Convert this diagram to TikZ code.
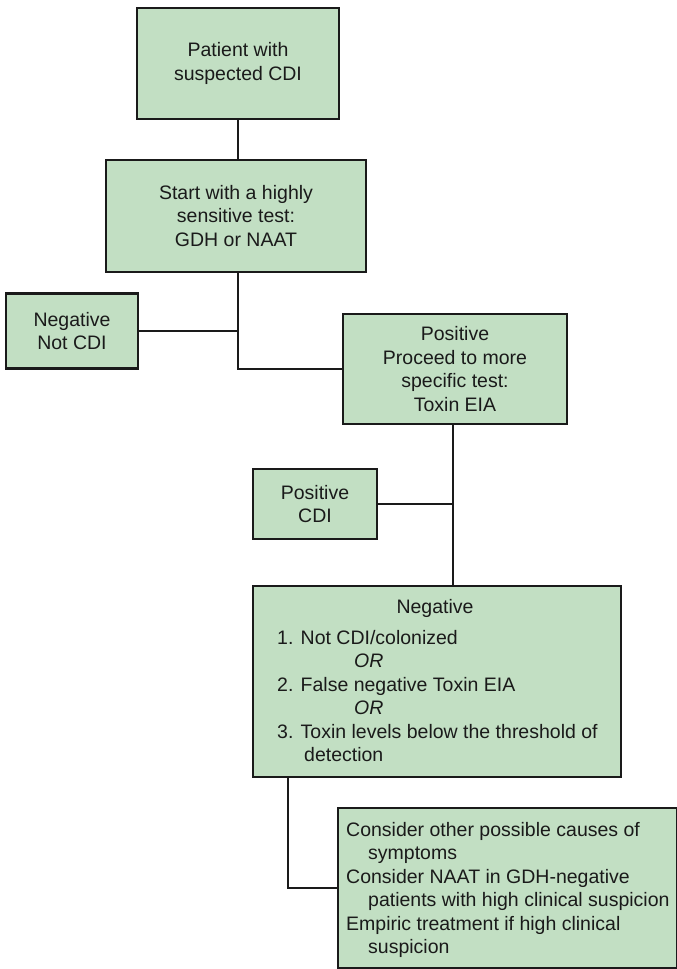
\documentclass[tikz,border=0pt]{standalone}
\usepackage{fontspec}
\setmainfont{Liberation Sans}
\definecolor{boxfill}{HTML}{C2DFC3}
\definecolor{ink}{HTML}{1A1A1A}
\begin{document}
\begin{tikzpicture}[x=1pt,y=-1pt,
  box/.style={draw=ink,fill=boxfill,line width=2.6pt,rectangle,inner sep=0pt,align=center,
    font=\fontsize{19.5}{23.5}\selectfont,text=ink},
  txt/.style={inner sep=0pt,align=left,font=\fontsize{19.5}{23.5}\selectfont,text=ink},
  link/.style={draw=ink,line width=2.2pt}]
\useasboundingbox[fill=white] (0,0) rectangle (677,969);
\node[box,minimum width=202pt,minimum height=111pt] (b1) at (238,63.5) {Patient with\\suspected CDI};
\node[box,minimum width=260pt,minimum height=112pt] (b2) at (236,216) {Start with a highly\\sensitive test:\\GDH or NAAT};
\node[box,minimum width=132pt,minimum height=75pt] (neg) at (72,331) {Negative\\Not CDI};
\node[box,minimum width=224pt,minimum height=110pt] (pos) at (455,369) {Positive\\Proceed to more\\specific test:\\Toxin EIA};
\node[box,minimum width=124pt,minimum height=70pt] (pcdi) at (315,504) {Positive\\CDI};
\node[box,minimum width=368pt,minimum height=191pt] (nbig) at (437,681.5) {};
\node[txt,anchor=center] (nhead) at (435,608) {Negative};
\node[txt,anchor=west] (nlist) at (277,696) {1. Not CDI/colonized\\
\hspace*{77pt}\textit{OR}\\
2. False negative Toxin EIA\\
\hspace*{77pt}\textit{OR}\\
3. Toxin levels below the threshold of\\
\hspace*{27pt}detection};
\node[box,minimum width=339pt,minimum height=160pt] (fin) at (507.5,888) {};
\node[txt,anchor=west] (flist) at (346,890) {Consider other possible causes of\\
\hspace*{22pt}symptoms\\
Consider NAAT in GDH-negative\\
\hspace*{22pt}patients with high clinical suspicion\\
Empiric treatment if high clinical\\
\hspace*{22pt}suspicion};
\coordinate (j1) at (238,331);
\coordinate (j2) at (238,369);
\coordinate (j3) at (288,777);
\draw[link] (b1.south) -- (b1.south |- b2.north);
\draw[link] (b1.south |- b2.south) -- (j2) -- (pos.west);
\draw[link] (neg.east) -- (neg.east -| j1);
\draw[link] (pos.south -| 453,0) -- (nbig.north -| 453,0);
\draw[link] (pcdi.east) -- (pcdi.east -| 453,0);
\draw[link] (j3) |- (fin.west);
\end{tikzpicture}
\end{document}
